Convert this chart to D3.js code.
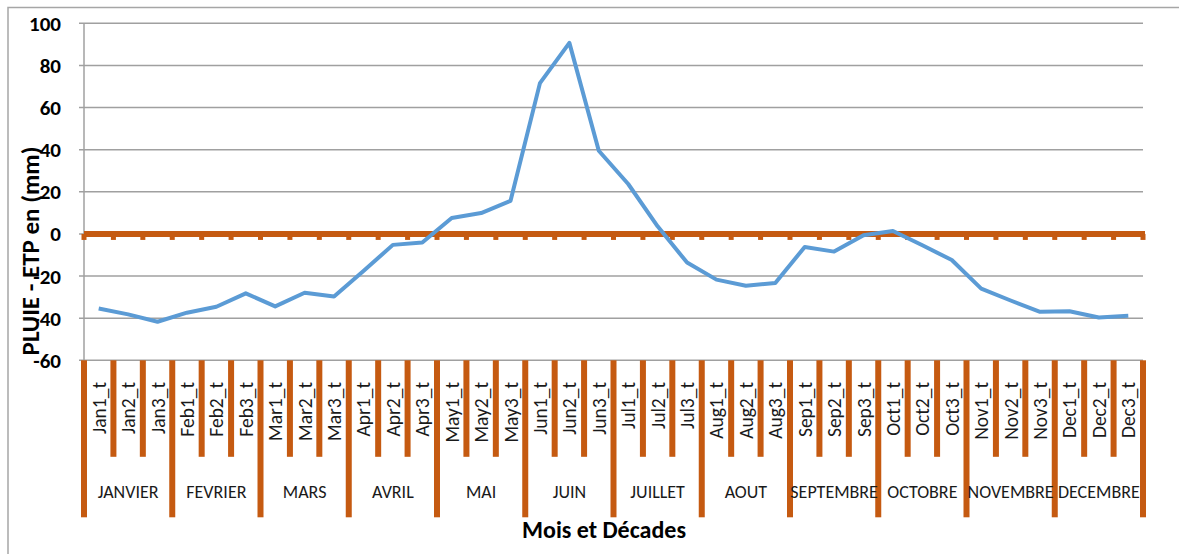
<!DOCTYPE html>
<html>
<head>
<meta charset="utf-8">
<script src="https://cdnjs.cloudflare.com/ajax/libs/d3/7.8.5/d3.min.js"></script>
<style>
  body { margin: 0; background: #fff; }
  svg { display: block; font-family: Calibri, Carlito, Lato, "Open Sans", sans-serif; }
</style>
</head>
<body>
<div class="chart"></div>
<script>
var months = ["JANVIER", "FEVRIER", "MARS", "AVRIL", "MAI", "JUIN", "JUILLET", "AOUT", "SEPTEMBRE", "OCTOBRE", "NOVEMBRE", "DECEMBRE"];
var monthCodes = ["Jan", "Feb", "Mar", "Apr", "May", "Jun", "Jul", "Aug", "Sep", "Oct", "Nov", "Dec"];
var decades = [];
monthCodes.forEach(function (m) {
    for (var k = 1; k <= 3; k++) decades.push(m + k + "_t");
});
// PLUIE - ETP par décade (mm)
var values = [-35.4, -38.2, -41.7, -37.4, -34.6, -28.2, -34.4, -27.9, -29.7,
    -17.6, -5.2, -4.1, 7.6, 9.9, 15.7, 71.6, 90.7, 39.5,
    23.7, 3.6, -13.6, -21.7, -24.6, -23.3, -6.2, -8.4, -0.6,
    1.4, -5.4, -12.4, -26, -31.6, -37, -36.7, -39.7, -38.9];
var yTicks = [-60, -40, -20, 0, 20, 40, 60, 80, 100];

function drawChart() {
    var width = 1179, height = 554;
    var plotLeft = 84, plotRight = 1143, plotTop = 23.3, plotBottom = 360.3;
    var orange = "#C55A11", grid = "#A0A0A0";

    var svg = d3.select(".chart").append("svg")
        .attr("width", width)
        .attr("height", height);

    // cadre
    svg.append("path")
        .attr("d", "M8," + height + "V7.5H" + width)
        .attr("fill", "none")
        .attr("stroke", "#A6A6A6")
        .attr("stroke-width", 1.5);

    var x = d3.scaleBand().domain(decades).range([plotLeft, plotRight]).padding(0);
    var y = d3.scaleLinear().domain([-60, 100]).range([plotBottom, plotTop]);

    // grille horizontale
    svg.append("g")
        .selectAll("line")
        .data(yTicks)
        .enter()
        .append("line")
        .attr("x1", plotLeft - 5)
        .attr("x2", plotRight)
        .attr("y1", function (d) { return y(d); })
        .attr("y2", function (d) { return y(d); })
        .attr("stroke", grid)
        .attr("stroke-width", 1.5);

    // axe vertical
    svg.append("line")
        .attr("x1", plotLeft).attr("x2", plotLeft)
        .attr("y1", plotTop).attr("y2", plotBottom)
        .attr("stroke", grid)
        .attr("stroke-width", 1.5);

    svg.append("g")
        .selectAll("text")
        .data(yTicks)
        .enter()
        .append("text")
        .attr("x", 61)
        .attr("y", function (d) { return y(d); })
        .attr("dy", "0.36em")
        .attr("text-anchor", "end")
        .attr("font-weight", "bold")
        .attr("font-size", 21)
        .text(function (d) { return d; });

    // axe des catégories (orange, à zéro)
    var boundaries = decades.map(function (d) { return x(d); }).concat([plotRight]);
    svg.append("line")
        .attr("x1", plotLeft).attr("x2", plotRight + 2)
        .attr("y1", y(0)).attr("y2", y(0))
        .attr("stroke", orange)
        .attr("stroke-width", 6);
    svg.append("g")
        .selectAll("rect")
        .data(boundaries)
        .enter()
        .append("rect")
        .attr("x", function (d) { return d - 2.5; })
        .attr("y", y(0))
        .attr("width", 5)
        .attr("height", 6)
        .attr("fill", orange);

    // traits verticaux sous le graphique
    svg.append("g")
        .selectAll("rect")
        .data(boundaries)
        .enter()
        .append("rect")
        .attr("x", function (d) { return d - 3; })
        .attr("y", plotBottom)
        .attr("width", 6)
        .attr("height", function (d, i) { return i % 3 == 0 ? 157 : 96.5; })
        .attr("fill", orange);

    // étiquettes des décades
    svg.append("g")
        .selectAll("text")
        .data(decades)
        .enter()
        .append("text")
        .attr("transform", function (d) {
            return "translate(" + (x(d) + x.bandwidth() / 2) + ",382) rotate(-90)";
        })
        .attr("dy", "0.36em")
        .attr("text-anchor", "end")
        .attr("font-size", 19.5)
        .attr("fill", "#1a1a1a")
        .text(function (d) { return d; });

    // étiquettes des mois
    svg.append("g")
        .selectAll("text")
        .data(months)
        .enter()
        .append("text")
        .attr("x", function (d, i) { return x(decades[i * 3]) + x.bandwidth() * 1.5; })
        .attr("y", 492)
        .attr("dy", "0.36em")
        .attr("text-anchor", "middle")
        .attr("font-size", 18)
        .attr("fill", "#1a1a1a")
        .text(function (d) { return d; });

    // courbe
    var line = d3.line()
        .x(function (d, i) { return x(decades[i]) + x.bandwidth() / 2; })
        .y(function (d) { return y(d); });
    svg.append("path")
        .datum(values)
        .attr("d", line)
        .attr("fill", "none")
        .attr("stroke", "#5B9BD5")
        .attr("stroke-width", 4)
        .attr("stroke-linejoin", "round");

    // titres
    svg.append("text")
        .attr("transform", "translate(30,251) rotate(-90)")
        .attr("dy", "0.35em")
        .attr("text-anchor", "middle")
        .attr("font-weight", "bold")
        .attr("font-size", 25)
        .text("PLUIE - ETP en (mm)");

    svg.append("text")
        .attr("x", 604)
        .attr("y", 538)
        .attr("text-anchor", "middle")
        .attr("font-weight", "bold")
        .attr("font-size", 24)
        .text("Mois et Décades");
}

drawChart();
</script>
</body>
</html>
